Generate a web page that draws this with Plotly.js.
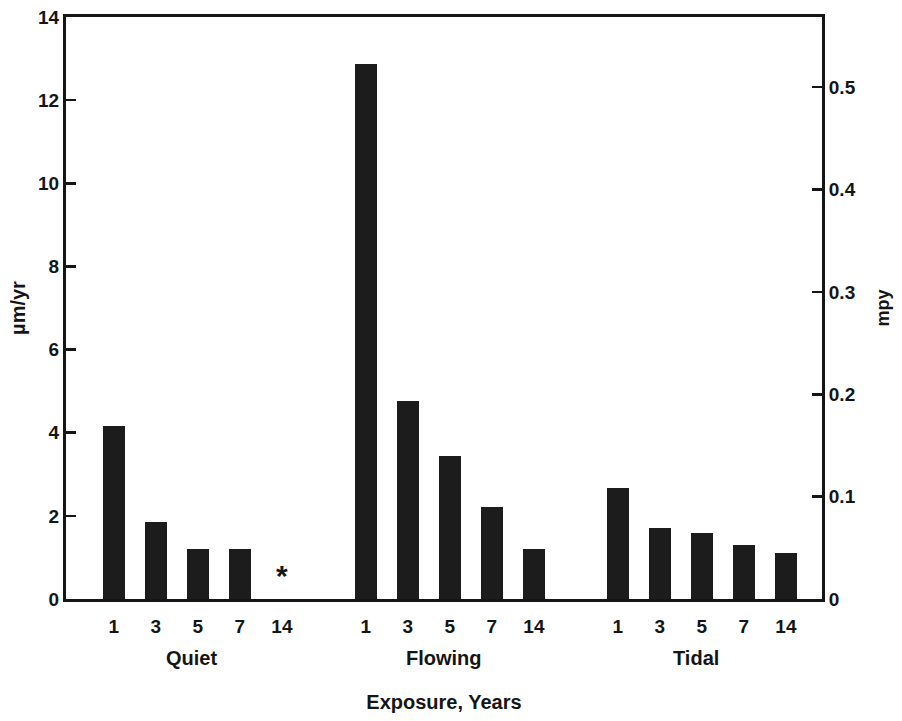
<!DOCTYPE html>
<html>
<head>
<meta charset="utf-8">
<script src="https://cdn.plot.ly/plotly-3.0.1.min.js"></script>
<style>html,body{margin:0;padding:0;background:#fff;}#chart{width:902px;height:721px;}</style>
</head>
<body>
<div id="chart"></div>
<script>
// Data (corrosion rate, µm/yr)
var groups = ["Quiet", "Flowing", "Tidal"];
var years = ["1", "3", "5", "7", "14"];
var quiet   = [4.15, 1.86, 1.21, 1.21, null]; // 14 yr: * (not available)
var flowing = [12.87, 4.77, 3.45, 2.22, 1.20];
var tidal   = [2.67, 1.71, 1.59, 1.30, 1.11];
var series = [quiet, flowing, tidal];
var umTicks = [0, 2, 4, 6, 8, 10, 12, 14];
var mpyTicks = [0, 0.1, 0.2, 0.3, 0.4, 0.5];
var mpyLabels = ["0", "0.1", "0.2", "0.3", "0.4", "0.5"];

var slot = years.length + 1; // group spacing in bar slots
var xs = [], ys = [], tv = [], tt = [];
groups.forEach(function(g, gi){
  years.forEach(function(yr, yi){
    var x = gi*slot + yi;
    xs.push(x); ys.push(series[gi][yi]);
    tv.push(x); tt.push(yr);
  });
});

var fam = "Liberation Sans, Arial, sans-serif";
var ink = "#151515";
var tf = {family: fam, size: 19, color: ink};
var b = function(t){ return "<b>" + t + "</b>"; };

var traces = [{
  type: "bar", x: xs, y: ys, width: 0.52,
  marker: {color: "#1c1c1c", line: {width: 0}},
  hoverinfo: "x+y", showlegend: false
},{
  type: "scatter", x: [xs[0]], y: [0], yaxis: "y2", mode: "markers",
  marker: {opacity: 0}, showlegend: false, hoverinfo: "skip"
}];

var annotations = groups.map(function(g, gi){
  return {text: b(g), x: gi*slot + (years.length-1)/2 - 0.15, xref: "x",
          y: 0, yref: "paper", yanchor: "top", yshift: -46, showarrow: false,
          font: {family: fam, size: 20, color: ink}};
});
annotations.push({text: b("*"), x: xs[4], xref: "x", y: 0, yref: "y",
  yanchor: "bottom", yshift: 5, showarrow: false,
  font: {family: fam, size: 30, color: ink}});

var layout = {
  width: 902, height: 721,
  margin: {l: 66, r: 80, t: 17, b: 122},
  paper_bgcolor: "#fff", plot_bgcolor: "#fff",
  font: tf,
  bargap: 0,
  xaxis: {
    range: [-1.14, 16.86], tickvals: tv, ticktext: tt.map(b),
    showline: true, linecolor: ink, linewidth: 3, mirror: true,
    ticks: "", ticklabelstandoff: 8, showgrid: false, zeroline: false, fixedrange: true,
    tickfont: tf,
    title: {text: b("Exposure, Years"), standoff: 60, font: {family: fam, size: 20, color: ink}}
  },
  yaxis: {
    range: [0, 14], tickvals: umTicks, ticktext: umTicks.map(function(v){return b(String(v));}),
    ticks: "inside", ticklen: 10, tickwidth: 2.5, tickcolor: ink,
    showline: true, linecolor: ink, linewidth: 3,
    showgrid: false, zeroline: false, fixedrange: true,
    tickfont: tf,
    title: {text: b("µm/yr"), standoff: 8, font: {family: fam, size: 20, color: ink}}
  },
  yaxis2: {
    overlaying: "y", side: "right", range: [0, 0.5686],
    tickvals: mpyTicks, ticktext: mpyLabels.map(b),
    ticks: "inside", ticklen: 10, tickwidth: 2.5, tickcolor: ink,
    showline: true, linecolor: ink, linewidth: 3,
    showgrid: false, zeroline: false, fixedrange: true,
    tickfont: tf,
    title: {text: b("mpy"), standoff: 22, font: {family: fam, size: 18, color: ink}}
  },
  annotations: annotations
};

Plotly.newPlot("chart", traces, layout, {displayModeBar: false, staticPlot: true});
</script>
</body>
</html>
